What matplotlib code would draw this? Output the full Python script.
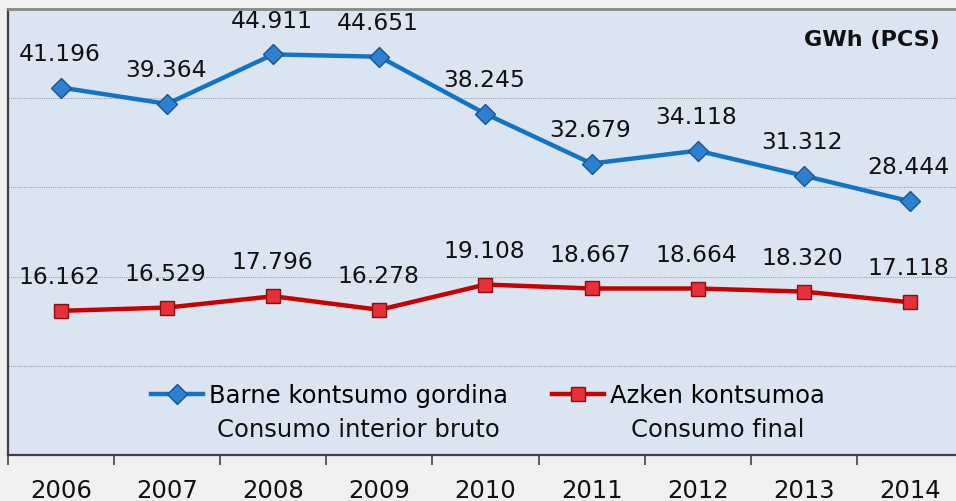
import matplotlib.pyplot as plt
import numpy as np

years = ['2006', '2007', '2008', '2009', '2010', '2011', '2012', '2013', '2014']
barne = [41196, 39364, 44911, 44651, 38245, 32679, 34118, 31312, 28444]
azken = [16162, 16529, 17796, 16278, 19108, 18667, 18664, 18320, 17118]
legend_top = ['Barne kontsumo gordina', 'Azken kontsumoa']
legend_bottom = ['Consumo interior bruto', 'Consumo final']
unit = 'GWh (PCS)'


def fmt(v):
    return f'{v:,}'.replace(',', '.')


plt.rcParams['font.family'] = 'DejaVu Sans'
fig = plt.figure(figsize=(9.56, 5.01), dpi=100, facecolor='#f0f0f0')
ax = fig.add_axes([8 / 956, 46 / 501, 955 / 956, 446 / 501])
ax.set_facecolor('#dbe5f1')

x = np.arange(len(years))
ax.plot(x, barne, color='#1474c4', lw=3.2, marker='D', ms=10,
        mfc='#2d80cf', mec='#1a5590', mew=1.0, label=legend_top[0], zorder=3)
ax.plot(x, azken, color='#c80000', lw=3.2, marker='s', ms=10,
        mfc='#e8303a', mec='#8a1010', mew=1.0, label=legend_top[1], zorder=3)

for vals in (barne, azken):
    for xi, v in zip(x, vals):
        ax.annotate(fmt(v), (xi, v), xytext=(-1, 24), textcoords='offset points',
                    ha='center', va='center', fontsize=16.8, color='#111111')

ax.set_xlim(-0.5, 8.5)
ax.set_ylim(0, 50000)
ax.set_yticks(np.arange(10000, 50000, 10000))
ax.yaxis.grid(True, ls=(0, (1, 1)), color='#a0a0a0', lw=0.8)
ax.tick_params(axis='y', left=False, labelleft=False)

ax.set_xticks(x)
ax.set_xticklabels(years, fontsize=17.5)
ax.set_xticks(np.arange(-0.5, 9, 1), minor=True)
ax.tick_params(axis='x', which='major', length=0, pad=17.5, colors='#111111')
ax.tick_params(axis='x', which='minor', length=7, width=1.3, color='#505050')

for s in ('left', 'bottom'):
    ax.spines[s].set_color('#404040')
    ax.spines[s].set_linewidth(1.6)
ax.spines['top'].set_color('#888888')
ax.spines['top'].set_linewidth(2)
ax.spines['right'].set_visible(False)

ax.text(0.983, 0.92, unit, transform=fig.transFigure, ha='right', va='center',
        fontsize=16, fontweight='bold', color='#111111')

leg = ax.legend(loc='center', bbox_to_anchor=(480 / 955, 1 - (396 - 9) / 446),
                ncol=2, frameon=False, fontsize=17.5, handlelength=2.15,
                handletextpad=0.25, columnspacing=1.8)
fig.canvas.draw()
inv = ax.transAxes.inverted()
for t, lab in zip(leg.get_texts(), legend_bottom):
    bb = t.get_window_extent()
    cx, _ = inv.transform(((bb.x0 + bb.x1) / 2, 0))
    ax.text(cx, 1 - (430 - 9) / 446, lab, transform=ax.transAxes,
            ha='center', va='center', fontsize=17.5, color='#111111')

fig.savefig('out.png', dpi=100, facecolor=fig.get_facecolor())
